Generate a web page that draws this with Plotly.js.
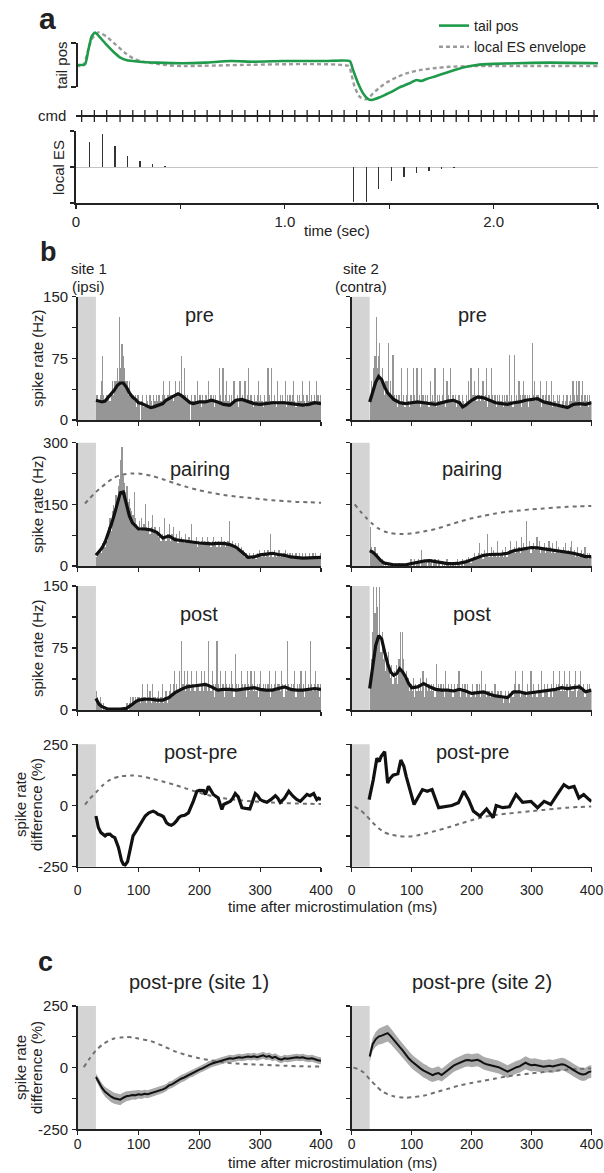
<!DOCTYPE html>
<html>
<head>
<meta charset="utf-8">
<script src="https://cdn.plot.ly/plotly-3.0.1.min.js"></script>
<style>
  html, body { margin: 0; padding: 0; background: #fff; }
  #fig { width: 604px; height: 1173px; }
</style>
</head>
<body>
<div id="fig"></div>
<script>
// ---------- panel a: tail position, command pulses and local ES train ----------
const tailTime = [0, 0.043, 0.059, 0.075, 0.091, 0.115, 0.147, 0.179, 0.21, 0.24,
  0.306, 0.386, 0.51, 0.62, 0.74, 0.85, 0.99, 1.1, 1.2, 1.311,
  1.327, 1.351, 1.375, 1.399, 1.415, 1.455, 1.502, 1.55, 1.598, 1.63,
  1.654, 1.678, 1.726, 1.774, 1.822, 1.87, 1.918, 1.997, 2.108, 2.268, 2.5];
const tailPos = [0, 0.03, 0.68, 1.3, 1.48, 1.26, 0.91, 0.6, 0.35, 0.23,
  0.15, 0.11, 0.08, 0.11, 0.18, 0.15, 0.18, 0.18, 0.18, 0.18,
  -0.23, -0.83, -1.29, -1.55, -1.59, -1.47, -1.26, -1.02, -0.83, -0.68,
  -0.73, -0.64, -0.5, -0.35, -0.2, -0.08, 0, 0.05, 0.08, 0.11, 0.08];
const envTime = [0, 0.035, 0.054, 0.075, 0.107, 0.147, 0.179, 0.21, 0.242, 0.274,
  0.32, 0.386, 0.45, 0.51, 1.306, 1.318, 1.334, 1.358, 1.383, 1.399,
  1.423, 1.455, 1.487, 1.535, 1.582, 1.646, 1.71, 1.79, 1.9, 2.5];
const envPos = [-0.03, -0.03, 0.53, 1.17, 1.48, 1.29, 1.02, 0.76, 0.5, 0.3,
  0.15, 0.05, -0.02, -0.05, -0.05, -0.38, -0.98, -1.44, -1.56, -1.52,
  -1.29, -1.02, -0.8, -0.56, -0.38, -0.23, -0.15, -0.08, -0.05, -0.05];
const cmdTimes = [0.027, 0.088, 0.147, 0.211, 0.272, 0.330, 0.389, 0.450, 0.511, 0.569,
  0.628, 0.689, 0.748, 0.809, 0.869, 0.928, 0.989, 1.048, 1.107, 1.165,
  1.225, 1.284, 1.344, 1.404, 1.464, 1.524, 1.585, 1.646, 1.702, 1.761,
  1.821, 1.880, 1.941, 2.000, 2.061, 2.120, 2.181, 2.239, 2.300, 2.360,
  2.420, 2.481];
const esTimes = [0.064, 0.126, 0.187, 0.248, 0.306, 0.367, 0.426,
  1.330, 1.391, 1.450, 1.510, 1.571, 1.630, 1.690, 1.750, 1.810];
const esAmps = [0.70, 0.91, 0.59, 0.31, 0.175, 0.083, 0.03,
  -0.96, -0.96, -0.62, -0.39, -0.27, -0.175, -0.11, -0.065, -0.035];
const timeTicks = [0, 0.5, 1, 1.5, 2, 2.5];
const timeTickText = ['0', '', '1.0', '', '2.0', ''];

// ---------- panel b: spike-rate histograms, 2 ms bins starting at 30 ms ----------
const binStart = 31, binWidth = 2;
const stimWindow = [0, 30];

const histPreSite1 = [
  31,31,23,31,47,78,31,23,31,31, 31,23,31,47,31,47,47,63,47,125,
  63,93,78,63,47,47,31,47,31,31, 31,23,31,16,31,23,0,23,31,16,
  16,31,23,16,31,23,16,31,23,31, 23,31,31,23,31,47,31,23,31,31,
  47,31,31,23,31,47,31,31,47,31, 78,31,63,31,23,31,23,0,31,23,
  23,31,23,47,23,31,16,31,23,23, 31,23,47,23,31,23,31,16,31,23,
  23,63,31,23,63,23,31,47,23,31, 16,31,23,47,23,23,31,16,47,23,
  31,23,47,23,31,63,23,31,23,16, 31,23,31,47,23,31,23,16,31,23,
  23,63,31,23,63,23,31,23,16,47, 23,31,23,31,23,47,16,31,23,31,
  23,31,47,23,16,31,23,31,23,47, 31,23,16,31,23,47,23,31,23,31,
  23,47,31,23,31];
const histPreSite2 = [
  31,47,31,63,78,125,63,78,94,47, 63,47,31,47,47,94,31,47,31,79,
  31,23,31,16,31,23,63,23,31,16, 31,63,23,16,31,23,63,31,23,63,
  23,31,16,63,31,23,31,23,31,16, 47,23,31,23,63,16,31,23,31,23,
  31,63,23,16,47,31,23,63,23,31, 23,31,16,23,31,23,16,31,23,16,
  31,23,47,23,63,31,31,47,31,23, 63,31,23,31,47,23,31,63,16,31,
  23,63,31,23,31,16,31,23,31,23, 31,16,31,23,31,23,79,23,31,16,
  79,23,31,23,47,31,16,31,47,31, 23,31,16,31,23,94,31,47,23,31,
  31,23,47,16,31,23,31,47,23,31, 23,47,16,31,23,16,31,23,31,16,
  23,31,16,23,31,16,23,31,23,47, 31,23,47,31,47,16,31,47,23,31,
  23,31,16,31,23];
const histPairSite1 = [
  23,31,39,47,31,55,62,47,70,62, 94,117,86,133,148,125,172,164,195,211,
  258,289,219,203,180,195,156,164,141,133, 125,180,117,102,94,109,86,117,94,102,
  152,94,86,109,78,94,125,86,94,78, 86,70,94,62,78,70,117,62,78,70,
  102,62,78,94,62,70,78,55,86,62, 70,62,55,78,62,55,70,62,102,55,
  62,55,70,47,62,55,62,70,55,62, 55,70,62,55,47,62,70,55,62,47,
  62,55,47,70,55,62,47,55,62,109, 55,47,62,47,55,39,47,55,39,47,
  31,39,23,31,16,23,31,16,23,31, 23,16,31,23,39,31,23,31,39,23,
  31,39,23,78,31,23,39,31,23,31, 39,23,31,23,31,39,23,31,23,31,
  23,31,16,23,31,23,16,31,23,31, 16,23,31,23,16,31,23,16,31,23,
  31,23,16,23,31];
const histPairSite2 = [
  94,47,39,31,47,23,31,16,23,8, 16,8,0,8,0,8,0,0,8,0,
  0,8,0,0,8,0,0,8,0,0, 8,0,8,0,16,0,8,16,0,8,
  16,8,0,39,8,16,8,16,0,16, 8,16,0,8,16,8,0,16,8,0,
  8,0,8,0,16,8,0,8,0,8, 0,8,0,16,8,0,8,16,0,8,
  16,8,23,16,8,16,23,31,16,23, 31,55,23,31,16,39,23,31,78,23,
  31,47,23,39,31,23,62,31,23,31, 39,23,31,47,23,31,39,62,31,39,
  47,31,62,39,47,31,70,39,55,47, 109,47,39,62,31,47,55,39,47,70,
  39,62,31,47,39,55,31,47,39,62, 47,31,55,39,31,62,39,47,31,39,
  31,47,39,55,31,39,31,47,62,31, 39,23,31,47,23,31,39,23,31,47,
  23,31,16,31,23];
const histPostSite1 = [
  23,16,8,16,8,0,8,0,0,0, 0,0,0,0,0,0,0,0,0,0,
  0,0,0,0,0,8,0,8,16,8, 16,8,16,8,16,16,8,16,31,16,
  16,8,31,16,23,8,31,16,16,8, 16,23,8,16,31,8,16,23,8,16,
  23,31,16,31,47,23,31,23,47,23, 83,31,47,23,31,47,31,23,47,31,
  31,23,47,31,31,23,47,31,23,47, 31,23,83,31,23,47,31,16,31,83,
  31,23,47,23,31,16,47,31,23,31, 23,47,31,16,68,31,23,31,23,47,
  31,23,31,16,47,31,23,47,31,23, 47,23,31,16,31,47,23,31,23,31,
  23,31,47,16,31,23,31,47,23,31, 31,23,47,31,16,31,23,83,31,23,
  31,23,31,47,16,31,23,31,47,23, 31,16,47,23,31,23,83,31,23,31,
  47,23,31,16,31];
const histPostSite2 = [
  31,62,94,149,117,149,125,86,149,70, 94,62,78,47,62,70,47,39,55,31,
  47,39,55,31,62,94,47,94,62,39, 47,31,39,23,31,23,39,16,31,23,
  31,23,39,23,47,16,31,39,23,31, 23,31,23,31,16,56,23,31,23,31,
  23,31,16,47,23,31,23,23,31,16, 31,23,23,31,47,16,23,31,23,31,
  16,31,23,23,16,31,23,23,16,31, 23,31,16,47,23,23,31,16,23,23,
  16,23,23,16,31,16,23,23,16,23, 16,8,16,23,16,23,8,16,23,16,
  31,47,23,23,31,16,23,47,23,23, 16,31,23,23,47,16,31,23,23,16,
  31,23,23,47,16,31,23,23,31,16, 23,31,16,47,23,31,23,31,47,23,
  31,23,47,23,31,16,47,31,23,23, 31,47,16,23,31,47,23,23,31,16,
  23,31,23,31,23];

// smoothed rates (Hz)
const ratePreSite1T = [30,35,40,45,50,55,60,65,70,75,80,85,90,95,100,105,110,115,120,125,
  130,135,140,145,150,155,160,165,170,175,180,185,190,200,210,220,230,240,250,260,
  270,280,290,300,310,320,330,340,350,360,370,380,390,400];
const ratePreSite1 = [24,23,22,23,27,31,36,42,45,45,40,33,28,25,21,20,18,17,15,16,
  17,18,20,24,26,28,30,32,30,27,23,21,20,22,22,24,22,19,18,24,
  25,22,20,19,20,21,21,21,20,19,18,19,21,20];
const ratePreSite2T = [30,35,40,45,50,55,60,65,70,80,90,100,110,120,130,140,150,160,170,180,
  185,190,200,210,220,230,240,250,260,270,280,290,300,310,320,330,340,350,360,370,
  380,390,400];
const ratePreSite2 = [22,33,46,53,49,40,33,29,25,21,20,21,22,21,20,19,21,23,24,21,
  16,18,24,28,27,24,21,20,19,21,22,24,25,26,22,20,18,16,15,19,
  20,19,21];
const ratePairSite1T = [30,35,40,45,50,55,60,65,70,75,80,85,90,95,100,110,120,130,140,150,
  160,170,180,190,200,210,220,230,240,250,260,270,280,290,300,310,320,330,340,350,
  360,370,380,390,400];
const ratePairSite1 = [26,34,44,58,78,100,124,152,178,180,150,122,105,96,90,90,88,82,68,73,
  64,62,60,57,56,55,54,55,55,52,46,34,21,22,27,29,31,28,26,22,
  20,19,20,21,21];
const ratePairSite2T = [30,35,40,45,50,55,60,70,80,90,100,110,120,130,140,150,160,170,180,190,
  200,210,220,230,240,250,260,270,280,290,300,310,320,330,340,350,360,370,380,390,400];
const ratePairSite2 = [37,34,27,18,11,7,5,3,3,3,6,9,12,13,11,8,6,6,7,10,
  15,21,26,28,28,29,31,37,40,43,45,44,42,40,38,36,34,31,27,23,23];
const ratePostSite1T = [30,35,40,45,50,60,70,80,85,90,95,100,110,120,130,140,150,160,170,180,
  190,200,210,220,230,240,250,260,270,280,290,300,310,320,330,340,350,360,370,380,390,400];
const ratePostSite1 = [14,7,4,2,1,1,1,2,4,7,10,12,13,13,12,12,15,21,25,28,
  29,30,31,28,24,25,25,24,25,26,27,25,24,24,26,28,25,24,24,25,26,25];
const ratePostSite2T = [30,35,40,45,50,55,60,65,70,75,80,85,90,95,100,110,120,130,140,150,
  160,170,180,190,200,210,220,230,240,250,260,270,280,290,300,310,320,330,340,350,
  360,370,380,390,400];
const ratePostSite2 = [26,55,78,90,86,70,56,46,42,44,50,46,40,32,27,28,32,28,25,24,
  24,23,25,23,20,21,22,19,17,16,15,22,22,20,21,22,23,24,25,27,
  26,27,28,22,24];

// post - pre difference (%)
const diffSite1T = [30,34,38,45,48,53,57,61,67,72,75,78,82,86,91,96,100,105,111,117,
  124,128,132,137,141,146,150,154,158,162,166,170,176,182,186,190,196,200,207,210,
  215,219,223,227,231,237,240,245,251,255,259,264,270,276,283,288,292,296,300,305,
  311,318,325,329,333,340,347,354,360,366,371,377,382,388,393,396,400];
const diffSite1 = [-43,-90,-110,-124,-118,-117,-126,-131,-171,-225,-240,-243,-229,-185,-124,-105,-90,-70,-43,-30,
  -23,-28,-36,-40,-46,-70,-78,-81,-75,-64,-50,-43,-40,-30,-10,17,58,62,61,45,
  78,58,45,38,31,-16,4,10,17,30,49,35,-9,-12,-14,20,49,40,24,18,
  13,25,40,30,13,30,58,38,25,17,31,45,40,49,24,30,24];
const diffSite2T = [29,36,42,46,49,55,60,64,69,77,82,87,91,99,104,110,118,126,134,145,
  156,167,178,187,195,203,214,225,236,241,252,263,274,285,299,310,321,332,343,354,
  362,371,379,387,396,400];
const diffSite2 = [24,105,193,180,200,220,92,110,124,130,186,160,118,45,4,31,65,58,65,-9,
  -3,0,11,58,24,-23,-43,-14,-50,0,-9,-5,45,13,17,-9,17,4,45,85,
  72,78,31,45,24,17];

// ES envelope scaled onto each plot
const envPairSite1T = [12,20,30,40,50,60,70,80,90,100,120,140,160,180,200,220,240,260,280,300,320,340,360,380,400];
const envPairSite1 = [152,165,180,193,205,215,221,224,225,225,220,211,201,192,184,178,173,169,166,163,160,158,156,155,154];
const envPairSite2T = [5,15,25,35,45,55,65,80,100,120,140,160,180,200,220,240,260,280,300,320,340,360,380,400];
const envPairSite2 = [150,132,116,102,91,84,80,78,79,84,90,99,108,116,122,128,132,135,138,140,142,144,145,146];
const envDiffSite1T = [12,20,30,40,50,60,70,80,90,100,120,140,160,180,200,220,240,260,280,300,320,340,360,380,400];
const envDiffSite1 = [4,28,53,80,100,112,119,122,123,121,111,98,84,68,52,39,30,23,18,15,12,10,8,7,6];
const envDiffSite2T = [5,15,25,35,45,55,65,80,95,110,125,140,160,180,200,220,240,260,280,300,320,340,360,380,400];
const envDiffSite2 = [-5,-20,-43,-70,-93,-110,-119,-125,-127,-122,-113,-104,-90,-75,-60,-47,-39,-33,-28,-23,-18,-13,-9,-6,-4];

// ---------- panel c: population post - pre (%), 5 ms steps from 30 ms, with s.e.m. ----------
const avgStart = 30, avgStep = 5;
const avgSite1 = [-38,-62,-82,-98,-108,-118,-124,-127,-130,-122,
  -116,-114,-111,-112,-108,-110,-106,-108,-104,-102,
  -98,-94,-88,-82,-72,-68,-60,-52,-45,-40,
  -33,-26,-22,-14,-8,-3,4,12,16,20,
  24,28,30,35,38,36,40,42,40,44,
  45,43,46,42,45,50,44,47,40,44,
  36,32,38,36,38,40,42,40,42,38,
  36,38,33,30,28];
const semSite1 = [14,16,18,20,21,22,22,22,22,21,
  20,19,18,18,17,17,16,16,16,16,
  16,16,15,15,15,15,15,15,15,15,
  14,14,14,14,14,14,14,14,14,14,
  14,14,14,14,14,14,14,14,14,14,
  14,14,14,14,14,14,14,14,14,14,
  14,14,14,14,14,14,14,14,14,14,
  14,14,14,14,14];
const avgSite2 = [45,95,115,126,130,134,140,128,112,98,
  84,70,52,38,26,15,6,-4,-12,-18,
  -26,-30,-25,-22,-30,-20,-10,0,8,14,
  20,25,30,31,28,30,32,26,18,14,
  12,8,5,2,-4,-8,-16,-10,-3,2,
  5,12,20,14,10,12,10,8,4,6,
  8,5,8,10,14,12,6,-2,-10,-18,
  -24,-28,-26,-18,-15];
const semSite2 = [22,26,30,32,34,34,34,32,30,30,
  28,28,28,28,28,28,28,28,28,28,
  28,28,28,28,26,26,26,26,26,26,
  26,26,26,26,26,26,26,26,26,26,
  26,26,26,26,26,26,26,26,26,26,
  26,26,26,26,26,26,26,26,26,26,
  26,26,26,26,26,26,26,26,26,26,
  26,26,26,26,26];
const envAvgSite1T = [10,20,30,40,50,60,70,80,90,100,120,140,160,180,200,220,240,260,280,300,320,340,360,380,400];
const envAvgSite1 = [2,38,70,92,108,118,122,124,123,118,108,88,66,50,38,29,21,17,14,12,10,8,6,5,4];
const envAvgSite2T = [3,10,20,30,40,50,60,70,80,90,100,120,140,160,180,200,220,240,260,280,300,320,340,360,380,400];
const envAvgSite2 = [0,-5,-20,-47,-72,-95,-108,-116,-120,-122,-120,-114,-100,-86,-72,-62,-53,-44,-35,-29,-23,-18,-13,-8,-5,-3];

// ---------- drawing ----------
const W = 604, H = 1173;
const FONT = '"Liberation Sans", Arial, Helvetica, sans-serif';
const INK = '#222222';
const fx = p => p / W;
const fy = p => 1 - p / H;
const xdom = (a, b) => [a / W, b / W];
const ydom = (top, bot) => [1 - bot / H, 1 - top / H];

const traces = [];
const annotations = [];
const shapes = [];

function label(x, y, text, size, extra) {
  annotations.push(Object.assign({
    xref: 'paper', yref: 'paper', x: fx(x), y: fy(y), text: text,
    showarrow: false, xanchor: 'center', yanchor: 'middle',
    font: { family: FONT, size: size, color: INK }
  }, extra || {}));
}

const axisBase = {
  showgrid: false, zeroline: false, fixedrange: true,
  showline: true, linecolor: INK, linewidth: 1.6,
  ticks: 'outside', ticklen: 4, tickwidth: 1.3, tickcolor: INK,
  tickfont: { family: FONT, size: 15, color: INK },
  ticklabeloverflow: 'allow'
};

const layout = {
  width: W, height: H,
  margin: { l: 0, r: 0, t: 0, b: 0 },
  paper_bgcolor: '#ffffff', plot_bgcolor: 'rgba(0,0,0,0)',
  font: { family: FONT, size: 15, color: INK },
  showlegend: true,
  legend: {
    x: fx(434), y: fy(10), xanchor: 'left', yanchor: 'top', traceorder: 'normal',
    bgcolor: 'rgba(0,0,0,0)', borderwidth: 0, itemwidth: 30,
    tracegroupgap: 0, font: { family: FONT, size: 14, color: INK }
  },
  bargap: 0, barmode: 'overlay'
};

// panel a axes
layout.xaxis = Object.assign({}, axisBase, {
  domain: xdom(76, 598), range: [0, 2.5], anchor: 'y3',
  tickvals: timeTicks, ticktext: timeTickText, ticklabelstandoff: 0
});
layout.yaxis = { domain: ydom(26, 108), range: [-1.955, 1.773], anchor: 'x', visible: false, fixedrange: true };
layout.yaxis2 = {
  domain: ydom(110, 122), range: [-1, 1], anchor: 'x', fixedrange: true,
  showgrid: false, showline: false, showticklabels: false, ticks: '',
  zeroline: true, zerolinecolor: INK, zerolinewidth: 1.3
};
layout.yaxis3 = Object.assign({}, axisBase, {
  domain: ydom(131, 203), range: [-1, 1], anchor: 'x',
  tickvals: [-1, 0, 1], showticklabels: false,
  zeroline: true, zerolinecolor: '#c4c4c4', zerolinewidth: 1
});
layout.yaxis4 = Object.assign({}, axisBase, {
  domain: ydom(43, 87), range: [-1, 1], anchor: 'free', position: fx(76),
  tickvals: [-1, 1], showticklabels: false, ticklen: 5
});

traces.push({
  x: envTime, y: envPos, xaxis: 'x', yaxis: 'y', mode: 'lines', name: 'local ES envelope',
  legendrank: 2, line: { color: '#9a9a9a', width: 2.4, dash: '4px,3px', shape: 'spline', smoothing: 0.5 }
});
traces.push({
  x: tailTime, y: tailPos, xaxis: 'x', yaxis: 'y', mode: 'lines', name: 'tail pos',
  legendrank: 1, line: { color: '#1f9a4b', width: 2.6, shape: 'spline', smoothing: 0.5 }
});
traces.push({
  x: cmdTimes, y: cmdTimes.map(() => 0), xaxis: 'x', yaxis: 'y2', mode: 'markers', showlegend: false,
  marker: { symbol: 'line-ns', size: 10, color: INK, line: { width: 1.3, color: INK } }
});
traces.push({
  type: 'bar', x: esTimes, y: esAmps, xaxis: 'x', yaxis: 'y3', width: 0.0065, showlegend: false,
  marker: { color: '#333333', line: { width: 0 } }
});
traces.push({ x: [], y: [], xaxis: 'x', yaxis: 'y4', mode: 'lines', showlegend: false });

label(37, 18, '<b>a</b>', 30, { xanchor: 'left' });
label(68, 116, 'cmd', 15, { xanchor: 'right' });
label(62, 65, 'tail pos', 15, { textangle: -90 });
label(58, 168, 'local ES', 15, { textangle: -90 });
label(337, 231, 'time (sec)', 15);

// panels b and c
const colX = [[77.7, 321], [351.7, 591.5]];
const rowY = {
  pre: [296.7, 420], pairing: [442.7, 566], post: [586, 710],
  diff: [744.3, 866.7], avg: [1006, 1129.3]
};
const rateTicks = { vals: [0, 37.5, 75, 112.5, 150], text: ['0', '', '75', '', '150'], range: [0, 150] };
const pairTicks = { vals: [0, 75, 150, 225, 300], text: ['0', '', '150', '', '300'], range: [0, 300] };
const diffTicks = { vals: [-250, -125, 0, 125, 250], text: ['-250', '', '0', '', '250'], range: [-250, 250] };

const panels = [
  { row: 'pre', col: 0, ticks: rateTicks, hist: histPreSite1, lineT: ratePreSite1T, line: ratePreSite1 },
  { row: 'pre', col: 1, ticks: rateTicks, hist: histPreSite2, lineT: ratePreSite2T, line: ratePreSite2 },
  { row: 'pairing', col: 0, ticks: pairTicks, hist: histPairSite1, lineT: ratePairSite1T, line: ratePairSite1, envT: envPairSite1T, env: envPairSite1 },
  { row: 'pairing', col: 1, ticks: pairTicks, hist: histPairSite2, lineT: ratePairSite2T, line: ratePairSite2, envT: envPairSite2T, env: envPairSite2 },
  { row: 'post', col: 0, ticks: rateTicks, hist: histPostSite1, lineT: ratePostSite1T, line: ratePostSite1 },
  { row: 'post', col: 1, ticks: rateTicks, hist: histPostSite2, lineT: ratePostSite2T, line: ratePostSite2 },
  { row: 'diff', col: 0, ticks: diffTicks, lineT: diffSite1T, line: diffSite1, envT: envDiffSite1T, env: envDiffSite1, xlabels: true, xstand: 6 },
  { row: 'diff', col: 1, ticks: diffTicks, lineT: diffSite2T, line: diffSite2, envT: envDiffSite2T, env: envDiffSite2, xlabels: true, xstand: 6 },
  { row: 'avg', col: 0, ticks: diffTicks, avg: avgSite1, sem: semSite1, envT: envAvgSite1T, env: envAvgSite1, xlabels: true, xstand: -3 },
  { row: 'avg', col: 1, ticks: diffTicks, avg: avgSite2, sem: semSite2, envT: envAvgSite2T, env: envAvgSite2, xlabels: true, xstand: -3 }
];

panels.forEach((p, k) => {
  const xi = k + 2, yi = k + 5;
  const xid = 'x' + xi, yid = 'y' + yi;
  layout['xaxis' + xi] = Object.assign({}, axisBase, {
    domain: xdom(colX[p.col][0], colX[p.col][1]), range: [0, 400], anchor: yid,
    tickvals: [0, 100, 200, 300, 400], showticklabels: !!p.xlabels,
    ticklabelstandoff: p.xstand || 0,
    tickfont: { family: FONT, size: 14, color: INK }
  });
  layout['yaxis' + yi] = Object.assign({}, axisBase, {
    domain: ydom(rowY[p.row][0], rowY[p.row][1]), range: p.ticks.range, anchor: xid,
    tickvals: p.ticks.vals, ticktext: p.ticks.text, showticklabels: p.col === 0,
    ticklabelstandoff: 1
  });
  shapes.push({
    type: 'rect', xref: xid, yref: yid + ' domain', layer: 'below',
    x0: stimWindow[0], x1: stimWindow[1], y0: 0, y1: 1,
    fillcolor: '#d4d4d4', line: { width: 0 }
  });
  if (p.hist) {
    traces.push({
      type: 'bar', x0: binStart, dx: binWidth, y: p.hist, width: binWidth,
      xaxis: xid, yaxis: yid, showlegend: false,
      marker: { color: '#969696', line: { width: 0 } }
    });
  }
  if (p.avg) {
    traces.push({
      x0: avgStart, dx: avgStep, y: p.avg.map((v, i) => v - p.sem[i]),
      xaxis: xid, yaxis: yid, mode: 'lines', line: { width: 0, color: 'rgba(0,0,0,0)' }, showlegend: false
    });
    traces.push({
      x0: avgStart, dx: avgStep, y: p.avg.map((v, i) => v + p.sem[i]),
      xaxis: xid, yaxis: yid, mode: 'lines', fill: 'tonexty', fillcolor: '#ababab',
      line: { width: 0, color: 'rgba(0,0,0,0)' }, showlegend: false
    });
  }
  if (p.env) {
    traces.push({
      x: p.envT, y: p.env, xaxis: xid, yaxis: yid, mode: 'lines', showlegend: false,
      line: { color: '#707070', width: 2, dash: '4px,4px', shape: 'spline', smoothing: 0.6 }
    });
  }
  if (p.avg) {
    traces.push({
      x0: avgStart, dx: avgStep, y: p.avg, xaxis: xid, yaxis: yid, mode: 'lines', showlegend: false,
      line: { color: '#111', width: 2 }
    });
  } else {
    traces.push({
      x: p.lineT, y: p.line, xaxis: xid, yaxis: yid, mode: 'lines', showlegend: false,
      line: { color: '#111', width: 3.2 }
    });
  }
});

// panel b / c text
label(38, 252, '<b>b</b>', 27, { xanchor: 'left' });
label(88.5, 268, 'site 1', 15);
label(88.5, 286, '(ipsi)', 15);
label(360.5, 268, 'site 2', 15);
label(361, 286, '(contra)', 15);
label(199, 315, 'pre', 20); label(472, 315, 'pre', 20);
label(200, 469, 'pairing', 20); label(472, 469, 'pairing', 20);
label(199, 614, 'post', 20); label(472, 614, 'post', 20);
label(200, 752, 'post-pre', 20); label(472.5, 752, 'post-pre', 20);
label(37, 358, 'spike rate (Hz)', 15, { textangle: -90 });
label(37, 504, 'spike rate (Hz)', 15, { textangle: -90 });
label(37, 648, 'spike rate (Hz)', 15, { textangle: -90 });
label(20, 805, 'spike rate', 15, { textangle: -90 });
label(36, 805, 'difference (%)', 15, { textangle: -90 });
label(332, 907, 'time after microstimulation (ms)', 15);

label(36, 962, '<b>c</b>', 27, { xanchor: 'left' });
label(199, 982, 'post-pre (site 1)', 20);
label(482, 982, 'post-pre (site 2)', 20);
label(20, 1068, 'spike rate', 15, { textangle: -90 });
label(36, 1068, 'difference (%)', 15, { textangle: -90 });
label(332, 1162, 'time after microstimulation (ms)', 15);

layout.annotations = annotations;
layout.shapes = shapes;

Plotly.newPlot('fig', traces, layout, { staticPlot: true, displayModeBar: false });
</script>
</body>
</html>
